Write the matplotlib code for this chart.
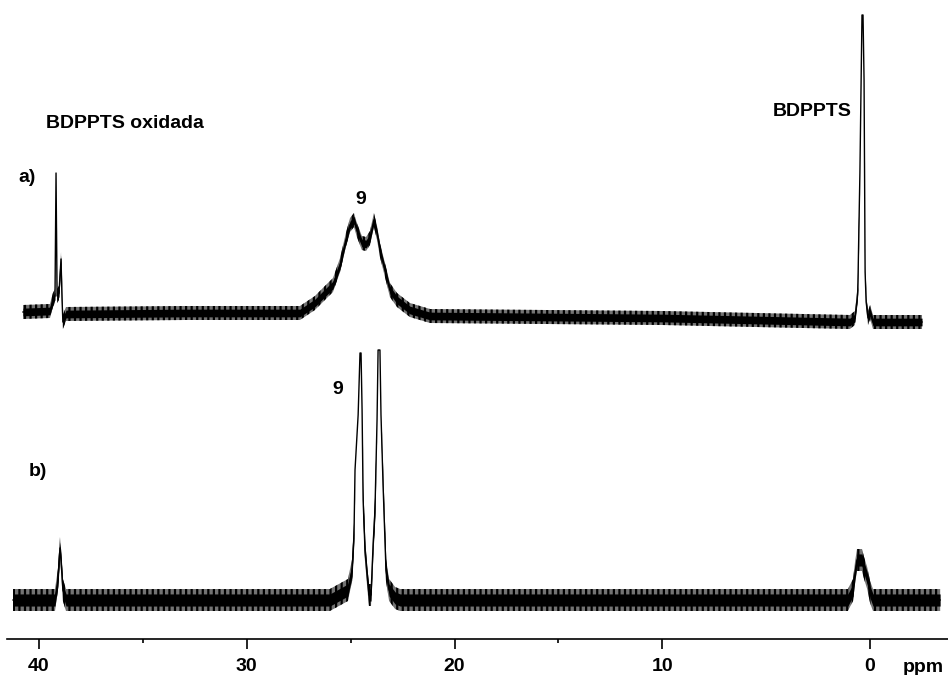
import numpy as np
import matplotlib
matplotlib.use("Agg")
import matplotlib.pyplot as plt

# --- Spectre a) : sommets (ppm, intensité au-dessus de la ligne de base) ---
PPM_A = [40.77, 39.47, 39.33, 39.23, 39.18, 39.13, 39.04, 38.94, 38.89, 38.85, 38.70,
         33.0, 27.44, 26.72, 26.24, 25.85, 25.51, 25.23, 25.03, 24.84, 24.70, 24.46,
         24.26, 24.07, 23.88, 23.73, 23.59, 23.35, 23.11, 22.77, 22.15, 21.18, 10.0,
         0.97, 0.73, 0.63, 0.59, 0.54, 0.49, 0.39, 0.34, 0.29, 0.24, 0.19, 0.10, 0.0,
         -0.14, -2.50]
INT_A = [6, 7, 18, 22, 145, 22, 25, 59, 18, -4, 4,
         5, 5, 15, 25, 33, 53, 78, 93, 98, 88, 75,
         74, 80, 98, 85, 68, 48, 28, 18, 8, 2, 0,
         -4, 0, 18, 28, 88, 145, 303, 303, 238, 46, 16, 0, 6,
         -4, -4]

# --- Spectre b) ---
PPM_B = [41.25, 39.23, 39.09, 38.99, 38.94, 38.85, 38.70, 26.0, 25.13, 24.93,
         24.84, 24.79, 24.64, 24.55, 24.50, 24.45, 24.40, 24.31, 24.21, 24.12,
         24.02, 23.92, 23.83, 23.73, 23.68, 23.59, 23.54, 23.44, 23.30, 23.15,
         22.86, 22.62, 10.0, 1.07, 0.82, 0.72, 0.63, 0.39, 0.29, 0.14, 0.0,
         -0.14, -3.37]
INT_B = [0, 0, 20, 52, 40, 10, 0, 0, 10, 30,
         65, 130, 185, 247, 247, 190, 100, 50, 25, 5,
         5, 55, 90, 180, 250, 250, 185, 115, 30, 10,
         2, 0, 0, 0, 10, 28, 40, 40, 32, 22, 8,
         0, 0]

TICKS_MAJ = [40, 30, 20, 10, 0]
TICKS_MIN = [35, 25, 15]

# décalage vertical de chaque spectre et largeur de la bande de bruit
OFFSET_A, NOISE_A = 321, 7
OFFSET_B, NOISE_B = 39, 11
SEUIL_PIC = 120   # pas de bruit dessiné au sommet des pics fins

FONT = ['Liberation Sans', 'DejaVu Sans']
TXT = dict(fontsize=14, fontweight='bold', family=FONT, clip_on=False)

plt.rcParams['hatch.linewidth'] = 1.6


def tracer_spectre(ax, ppm, inten, offset, bruit):
    """Trace le spectre avec une bande hachurée qui figure le bruit de fond."""
    ppm = np.array(ppm)
    y = np.array(inten) + offset
    amp = np.where(np.array(inten) < SEUIL_PIC, bruit, 0)
    ax.fill_between(ppm, y - amp, y + amp, facecolor='0.45', edgecolor='black',
                    hatch='|||', lw=0)
    ax.fill_between(ppm, y - 0.55 * amp, y + 0.55 * amp, color='black', lw=0)
    ax.plot(ppm, y, color='black', lw=1.0)


fig = plt.figure(figsize=(9.48, 6.75), dpi=100)
ax = fig.add_axes([7 / 948, 36 / 675, 941 / 948, 639 / 675])

tracer_spectre(ax, PPM_A, INT_A, OFFSET_A, NOISE_A)
tracer_spectre(ax, PPM_B, INT_B, OFFSET_B, NOISE_B)

ax.set_xlim(41.54, -3.75)
ax.set_ylim(0, 639)

# axe des ppm seul, sans cadre
for s in ['left', 'right', 'top']:
    ax.spines[s].set_visible(False)
ax.spines['bottom'].set_linewidth(1.2)
ax.set_yticks([])
ax.set_xticks(TICKS_MAJ)
ax.set_xticks(TICKS_MIN, minor=True)
ax.set_xticklabels([str(t) for t in TICKS_MAJ])
ax.tick_params(axis='x', which='major', length=7.5, width=1.2, pad=6)
ax.tick_params(axis='x', which='minor', length=3, width=1.2)
for lab in ax.get_xticklabels():
    lab.set_fontsize(14)
    lab.set_fontweight('bold')
    lab.set_family(FONT)

# annotations
ax.text(39.66, 515, "BDPPTS oxidada", ha='left', va='center', **TXT)
ax.text(4.67, 527, "BDPPTS", ha='left', va='center', **TXT)
ax.text(41.01, 461, "a)", ha='left', va='center', **TXT)
ax.text(24.50, 439, "9", ha='center', va='center', **TXT)
ax.text(40.48, 167, "b)", ha='left', va='center', **TXT)
ax.text(25.61, 249, "9", ha='center', va='center', **TXT)
ax.text(-2.55, -28, "ppm", ha='center', va='center', **TXT)

fig.savefig("out.png", dpi=100)
